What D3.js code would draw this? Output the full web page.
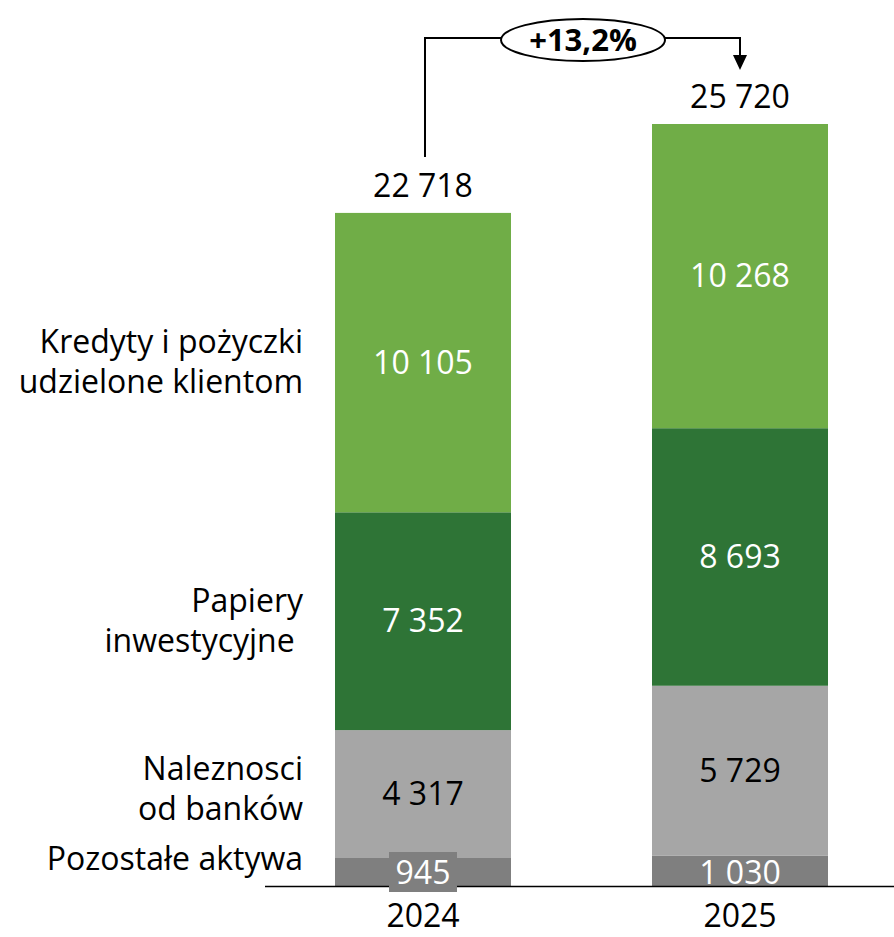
<!DOCTYPE html>
<html>
<head>
<meta charset="utf-8">
<script src="https://cdn.jsdelivr.net/npm/d3@7"></script>
<style>
  body { margin: 0; background: #fff; }
  text { font-family: "Open Sans", sans-serif; }
</style>
</head>
<body>
<div id="chartDiv"></div>
<script>
var width = 894, height = 937;

// data
var years = ["2024", "2025"];
var categories = ["Pozostałe aktywa", "Naleznosci od banków", "Papiery inwestycyjne", "Kredyty i pożyczki udzielone klientom"];
var values2024 = [945, 4317, 7352, 10105];
var values2025 = [1030, 5729, 8693, 10268];
var totals = [22718, 25720];
var growthLabel = "+13,2%";
var catLabels = [["Pozostałe aktywa"], ["Naleznosci", "od banków"], ["Papiery", "inwestycyjne "], ["Kredyty i pożyczki", "udzielone klientom"]];
var colors = ["#7f7f7f", "#a6a6a6", "#2e7436", "#70ad47"];
var textColors = ["#fff", "#000", "#fff", "#fff"];

var fs = 32;

var svg = d3.select("#chartDiv").append("svg")
    .attr("width", width).attr("height", height);

var x = d3.scaleBand().domain(years).range([335, 828]).paddingInner(0.4448).paddingOuter(0);
var y = d3.scaleLinear().domain([0, 25720]).range([886, 124]);

// stack
var table = years.map(function (yr, i) {
    var row = { year: yr };
    var vals = i === 0 ? values2024 : values2025;
    categories.forEach(function (c, j) { row[c] = vals[j]; });
    return row;
});
var series = d3.stack().keys(categories)(table);

var fmt = function (v) { return d3.format(",")(v).replace(/,/g, " "); };

var groups = svg.selectAll("g.layer").data(series).enter().append("g")
    .attr("class", "layer");

groups.selectAll("rect").data(function (d) { return d; }).enter().append("rect")
    .attr("x", function (d) { return x(d.data.year); })
    .attr("width", x.bandwidth())
    .attr("y", function (d) { return y(d[1]); })
    .attr("height", function (d) { return y(d[0]) - y(d[1]); })
    .attr("fill", function (d, i, n) { return colors[d3.select(n[i].parentNode).datum().index]; });

// axis line
svg.append("line")
    .attr("x1", 265).attr("x2", 894).attr("y1", 886.5).attr("y2", 886.5)
    .attr("stroke", "#000").attr("stroke-width", 1.5);

// small label box for 945 that sticks out under the axis
svg.append("rect")
    .attr("x", x("2024") + x.bandwidth() / 2 - 34).attr("y", 852)
    .attr("width", 68).attr("height", 40)
    .attr("fill", colors[0]);

// segment labels
series.forEach(function (s, k) {
    svg.selectAll(null).data(s).enter().append("text")
        .attr("x", function (d) { return x(d.data.year) + x.bandwidth() / 2; })
        .attr("y", function (d) { return k === 0 ? y(0) - 2 : (y(d[0]) + y(d[1])) / 2 + 11; })
        .attr("text-anchor", "middle")
        .attr("font-size", fs)
        .attr("fill", textColors[k])
        .text(function (d) { return fmt(d[1] - d[0]); });
});

// totals
svg.selectAll(null).data(totals).enter().append("text")
    .attr("x", function (d, i) { return x(years[i]) + x.bandwidth() / 2; })
    .attr("y", function (d) { return y(d) - 16; })
    .attr("text-anchor", "middle")
    .attr("font-size", fs)
    .text(function (d) { return fmt(d); });

// year labels
svg.selectAll(null).data(years).enter().append("text")
    .attr("x", function (d) { return x(d) + x.bandwidth() / 2; })
    .attr("y", 927)
    .attr("text-anchor", "middle")
    .attr("font-size", fs)
    .text(function (d) { return d; });

// category labels on the left
var catY = [870, 780, 612, 353];
catLabels.forEach(function (lines, k) {
    var t = svg.append("text")
        .attr("x", 303).attr("y", catY[k])
        .attr("text-anchor", "end")
        .attr("font-size", fs)
        .attr("xml:space", "preserve");
    lines.forEach(function (ln, i) {
        t.append("tspan").attr("x", 303).attr("dy", i === 0 ? 0 : 40).text(ln);
    });
});

// growth connector
var x0 = x("2024") + x.bandwidth() / 2 + 2,
    x1 = x("2025") + x.bandwidth() / 2,
    topY = 38,
    cx = 583;
svg.append("path")
    .attr("d", "M" + x0 + "," + (y(totals[0]) - 56) + "V" + topY + "H" + x1 + "V" + 58)
    .attr("fill", "none").attr("stroke", "#000").attr("stroke-width", 2);
svg.append("path")
    .attr("d", "M" + (x1 - 7) + ",55L" + (x1 + 7) + ",55L" + x1 + ",70Z")
    .attr("fill", "#000");
svg.append("ellipse")
    .attr("cx", cx).attr("cy", 40).attr("rx", 82).attr("ry", 21)
    .attr("fill", "#fff").attr("stroke", "#000").attr("stroke-width", 2);
svg.append("text")
    .attr("x", cx).attr("y", 51)
    .attr("text-anchor", "middle")
    .attr("font-size", 31).attr("font-weight", "bold")
    .text(growthLabel);
</script>
</body>
</html>
